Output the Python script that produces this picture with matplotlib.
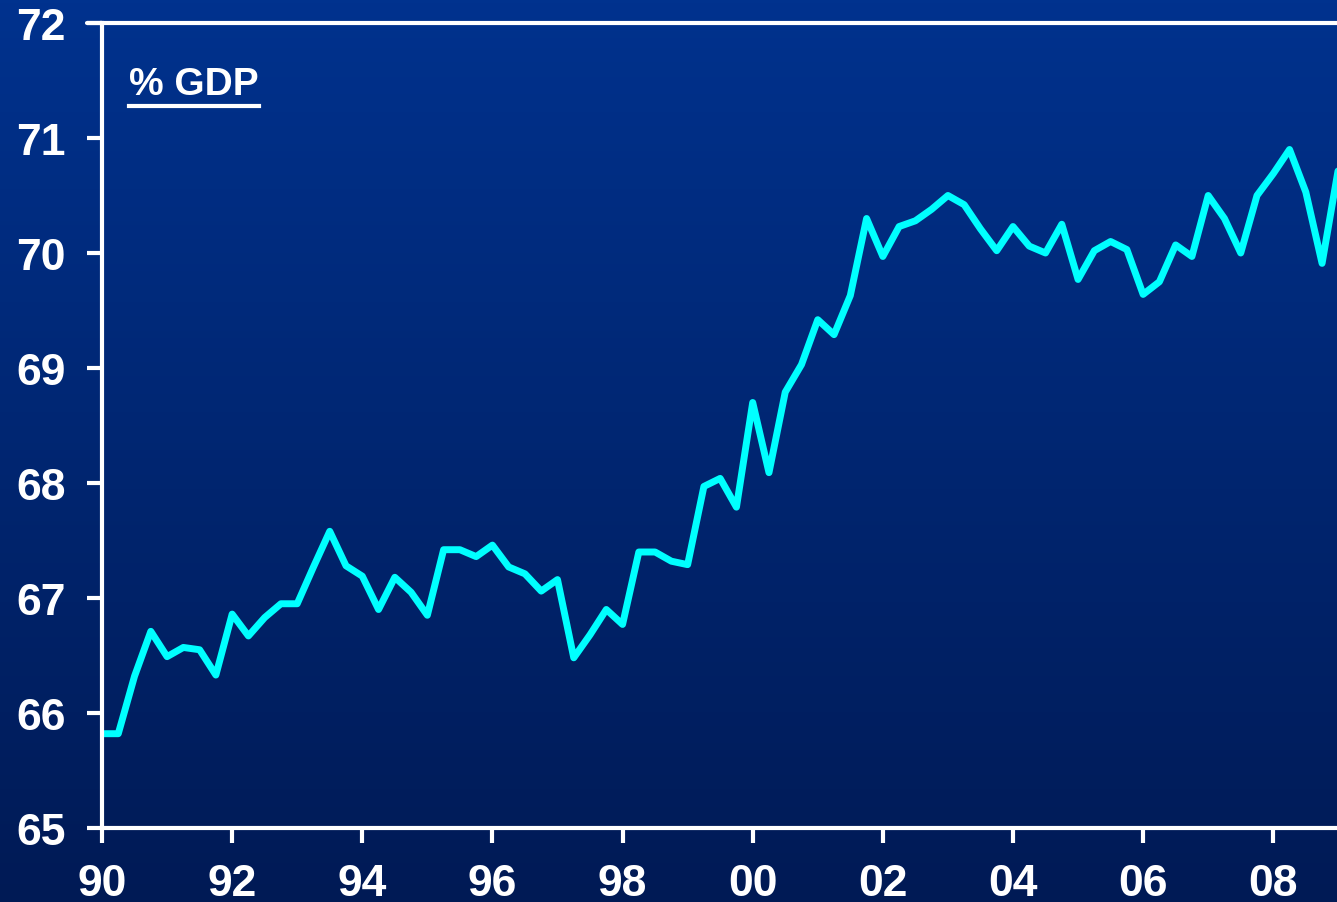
import numpy as np
import matplotlib
matplotlib.use("Agg")
import matplotlib.pyplot as plt
from matplotlib.colors import LinearSegmentedColormap
from matplotlib.lines import Line2D

# Quarterly series, 1990 Q1 onwards (% of GDP)
start_year = 1990
values = [
    65.82, 65.82, 66.32, 66.71, 66.49, 66.57, 66.55, 66.33,
    66.86, 66.67, 66.83, 66.95, 66.95, 67.27, 67.58, 67.28,
    67.19, 66.90, 67.18, 67.05, 66.85, 67.42, 67.42, 67.36,
    67.46, 67.27, 67.21, 67.06, 67.16, 66.48, 66.68, 66.90,
    66.77, 67.40, 67.40, 67.32, 67.29, 67.97, 68.04, 67.79,
    68.70, 68.09, 68.79, 69.03, 69.42, 69.29, 69.63, 70.30,
    69.97, 70.23, 70.28, 70.38, 70.50, 70.42, 70.21, 70.02,
    70.23, 70.06, 70.00, 70.25, 69.77, 70.02, 70.10, 70.03,
    69.64, 69.75, 70.07, 69.97, 70.50, 70.30, 70.00, 70.50,
    70.69, 70.90, 70.53, 69.91, 70.73,
]
x_ticks = list(range(1990, 2009, 2))
x_labels = ["90", "92", "94", "96", "98", "00", "02", "04", "06", "08"]
y_ticks = list(range(65, 73))
unit_label = "% GDP"

years = start_year + np.arange(len(values)) / 4.0

W, H = 1337, 903
fig = plt.figure(figsize=(W / 100, H / 100), dpi=100)

# Vertical blue gradient behind everything
bg = fig.add_axes([0, 0, 1, 1], zorder=0)
grad = np.linspace(0, 1, 256).reshape(-1, 1)
cmap = LinearSegmentedColormap.from_list("bg", ["#00328E", "#001A55"])
bg.imshow(grad, aspect="auto", cmap=cmap, extent=[0, 1, 0, 1], origin="upper")
bg.axis("off")

ax = fig.add_axes([102 / W, 1 - 829 / H, 1 - 102 / W + 0.001, (829 - 24) / H], zorder=1)
ax.patch.set_alpha(0)

ax.plot(years, values, color="#00FFFF", lw=5, solid_joinstyle="round",
        solid_capstyle="round", zorder=3)

ax.set_xlim(1990, 2009.0)
ax.set_ylim(65, 72)
ax.set_xticks(x_ticks)
ax.set_xticklabels(x_labels)
ax.set_yticks(y_ticks)

for side in ("left", "top", "bottom"):
    ax.spines[side].set_color("white")
    ax.spines[side].set_linewidth(3)
    ax.spines[side].set_zorder(4)
ax.spines["right"].set_visible(False)

font = dict(family="Liberation Sans", weight="bold", size=32)
ax.tick_params(axis="both", direction="out", length=11, width=3, color="white",
               labelcolor="white")
ax.tick_params(axis="y", pad=15)
ax.tick_params(axis="x", pad=14)
for lab in ax.get_xticklabels() + ax.get_yticklabels():
    lab.set_fontproperties(matplotlib.font_manager.FontProperties(**font))
    lab.set_color("white")

# Tick on the top spine at the 72 level, pointing left
ax.add_line(Line2D([-0.012, 0], [1, 1], transform=ax.transAxes, color="white",
                   lw=3, solid_capstyle="round", clip_on=False, zorder=4))

# Underlined unit label
txt = fig.text(129 / W, 1 - 95 / H, unit_label, color="white", ha="left",
               va="baseline", family="Liberation Sans", weight="bold", size=28,
               zorder=5)
fig.canvas.draw()
bb = txt.get_window_extent()
uy = (bb.y0 - 4) / H
fig.add_artist(Line2D([bb.x0 / W, bb.x1 / W], [uy, uy], color="white", lw=3,
                      zorder=5))

fig.savefig("out.png", dpi=100, facecolor="#001A55")
